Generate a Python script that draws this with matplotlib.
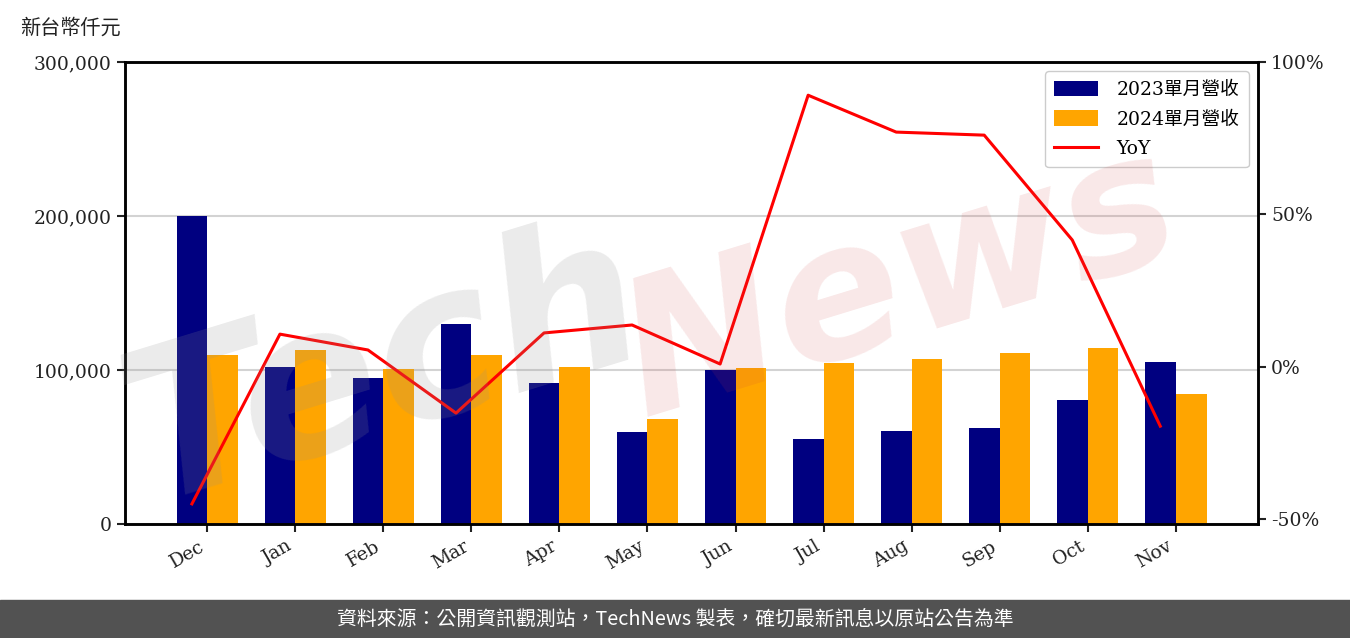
import matplotlib
matplotlib.use("Agg")
import matplotlib.pyplot as plt
import numpy as np
from matplotlib.ticker import FuncFormatter

months = ["Dec", "Jan", "Feb", "Mar", "Apr", "May", "Jun", "Jul", "Aug", "Sep", "Oct", "Nov"]
rev_2023 = [200000, 102000, 95000, 130000, 91500, 60000, 100000, 55200, 60400, 62300, 80500, 105200]
rev_2024 = [110000, 113000, 100500, 110000, 102000, 68200, 101500, 104700, 107200, 111000, 114500, 84500]
yoy = [-45.0, 10.7, 5.5, -15.2, 11.1, 13.7, 0.9, 89.1, 77.0, 76.0, 41.6, -19.5]

label_2023 = "2023單月營收"
label_2024 = "2024單月營收"
label_yoy = "YoY"
unit_label = "新台幣仟元"
footer = "資料來源：公開資訊觀測站，TechNews 製表，確切最新訊息以原站公告為準"

serif = ["DejaVu Serif", "Noto Sans CJK TC"]
plt.rcParams["font.family"] = serif

fig = plt.figure(figsize=(13.5, 6.38), dpi=100)
ax = fig.add_axes([125/1350, 1-524/638, (1258-125)/1350, (524-62)/638])
ax2 = ax.twinx()

x = np.arange(len(months))
w = 0.35
ax.bar(x - w/2, rev_2023, w, color="#000080", label=label_2023, zorder=2)
ax.bar(x + w/2, rev_2024, w, color="#FFA500", label=label_2024, zorder=2)
ax2.plot(x - w/2, yoy, color="red", lw=2.2, label=label_yoy, zorder=3)

fs = 13.5
ax.set_ylim(0, 300000)
ax.set_yticks([0, 100000, 200000, 300000])
ax.yaxis.set_major_formatter(FuncFormatter(lambda v, p: f"{int(v):,}"))
ax.grid(axis="y", color="#d3d3d3", lw=1.5, zorder=0)
ax.set_axisbelow(True)
ax.set_xticks(x)
ax.set_xticklabels(months, rotation=30, ha="right", fontsize=fs)
ax.tick_params(axis="both", labelsize=fs, width=1.5, length=6, colors="#222222")

ax2.set_ylim(-51.6, 100)
ax2.set_yticks([-50, 0, 50, 100])
ax2.yaxis.set_major_formatter(FuncFormatter(lambda v, p: f"{int(v)}%"))
ax2.tick_params(axis="y", labelsize=fs, width=1.5, length=6, colors="#222222")

for a in (ax, ax2):
    for s in a.spines.values():
        s.set_linewidth(1.8)
        s.set_color("black")

h1, l1 = ax.get_legend_handles_labels()
h2, l2 = ax2.get_legend_handles_labels()
leg = ax2.legend(h1 + h2, l1 + l2, loc="upper right", fontsize=fs,
                 framealpha=1, edgecolor="#cccccc", fancybox=True,
                 handlelength=2.3, handleheight=0.9, handletextpad=1.0,
                 borderpad=0.5, labelspacing=0.6)

fig.text(20/1350, 1-28/638, unit_label, fontsize=14.5, va="center", ha="left",
         family=["Noto Sans CJK TC"], color="#222222")

# watermark
fig.text(385/1350, 1-370/638, "Tech", fontsize=150, color="#909090", alpha=0.18,
         rotation=17, ha="center", va="center", style="italic", weight="bold",
         family=["DejaVu Sans"], zorder=10)
fig.text(900/1350, 1-285/638, "News", fontsize=135, color="#d04040", alpha=0.12,
         rotation=17, ha="center", va="center", style="italic", weight="bold",
         family=["DejaVu Sans"], zorder=10)

# footer band
fig.patches.append(plt.Rectangle((0, 0), 1, 38/638, transform=fig.transFigure,
                                 color="#525252", zorder=0))
fig.text(0.5, 19/638, footer, color="white", fontsize=14.3, ha="center", va="center",
         family=["Noto Sans CJK TC"])

fig.savefig("out.png", dpi=100)
